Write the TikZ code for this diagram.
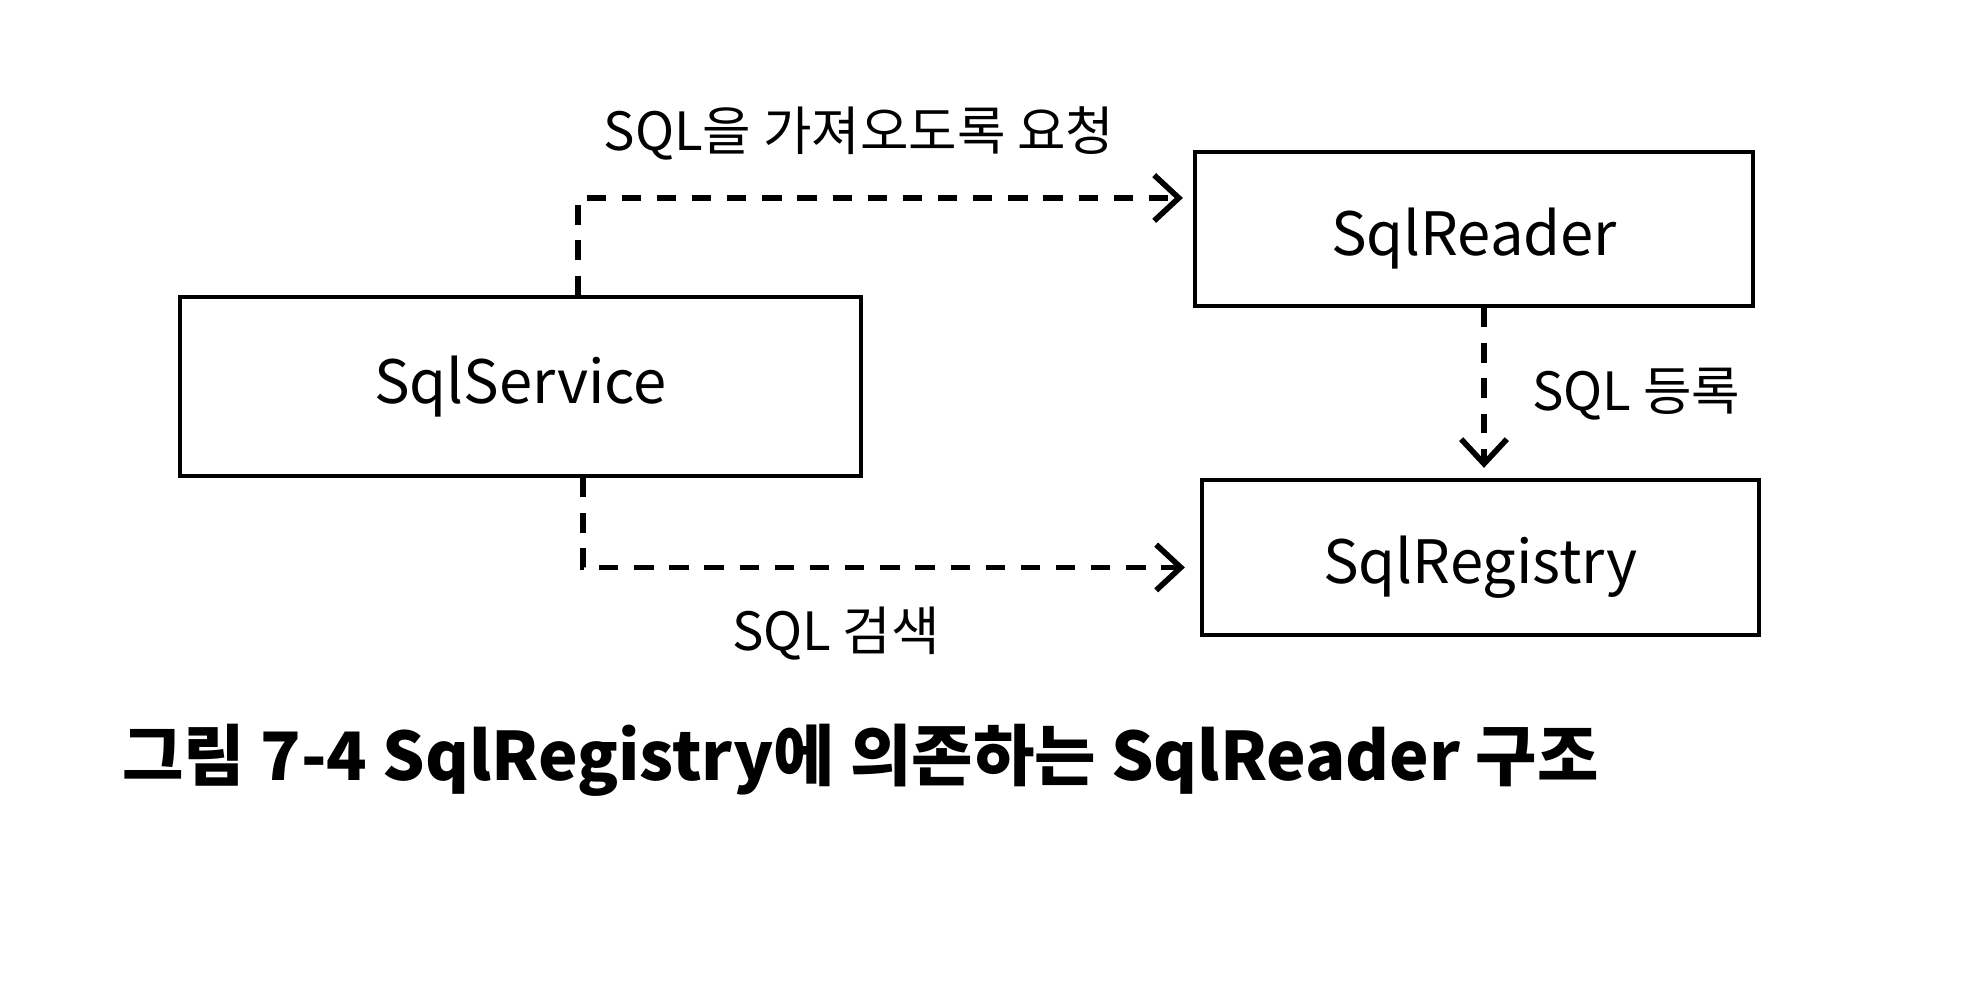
\documentclass[tikz,border=0pt]{standalone}
\usepackage{fontspec}
\setmainfont{Noto Sans CJK KR}
\usepackage{tikz}
\usetikzlibrary{arrows.meta}

\tikzset{
  comp/.style={draw, line width=1.2pt, minimum height=#1, font=\fontsize{17}{20}\selectfont},
  low/.style={text height=19pt, text depth=4pt},
  flow/.style={line width=1.5pt, dash pattern=on 5.5pt off 4.5pt, -{Straight Barb[length=7pt,width=13pt,line width=1.6pt]}},
  lbl/.style={font=\fontsize{15}{18}\selectfont}
}

\begin{document}
\begin{tikzpicture}
  \useasboundingbox (0,0) rectangle (19.8,10);

  \node[comp=1.79cm, minimum width=6.81cm] (svc) at (5.205,6.135) {SqlService};
  \node[comp=1.54cm, minimum width=5.58cm, low] (reader) at (14.74,7.71) {SqlReader};
  \node[comp=1.55cm, minimum width=5.57cm, low] (registry) at (14.805,4.425) {SqlRegistry};

  \draw[flow] ([xshift=0.575cm]svc.north) |- ([xshift=-0.1cm,yshift=0.31cm]reader.west);
  \draw[flow] ([xshift=0.625cm]svc.south) |- ([xshift=-0.15cm,yshift=-0.1cm]registry.west);
  \draw[flow] ([xshift=0.1cm]reader.south) -- ([xshift=0.1cm,yshift=0.1cm]reader.south |- registry.north);

  \node[lbl] (reqlbl) at (8.59,8.67) {SQL을 가져오도록 요청};
  \node[lbl, anchor=west] (reglbl) at (15.2,6.06) {SQL 등록};
  \node[lbl] (findlbl) at (8.36,3.66) {SQL 검색};

  \node[anchor=west, font=\fontsize{19}{23}\selectfont\bfseries] (caption) at (1.1,2.4)
    {그림 7-4 SqlRegistry에 의존하는 SqlReader 구조};
\end{tikzpicture}
\end{document}
